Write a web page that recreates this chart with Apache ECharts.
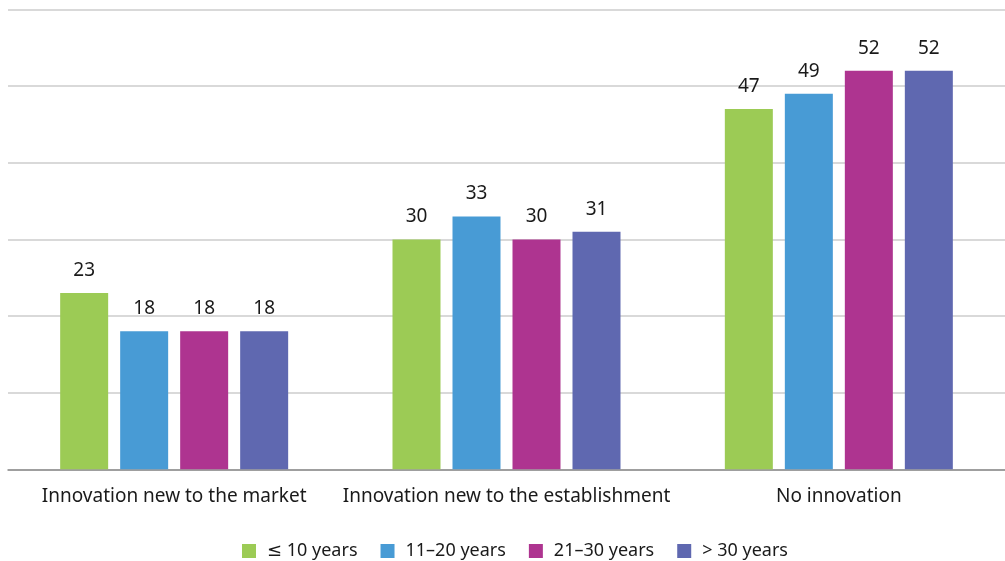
<!DOCTYPE html>
<html>
<head>
<meta charset="utf-8">
<script src="https://cdn.jsdelivr.net/npm/echarts@6/dist/echarts.min.js"></script>
<style>
  html, body { margin: 0; padding: 0; background: #ffffff; }
  #chart { width: 1005px; height: 561px; }
</style>
</head>
<body>
<div id="chart"></div>
<script>
// Innovation type by firm age (share, %)
const categories = [
  'Innovation new to the market',
  'Innovation new to the establishment',
  'No innovation'
];
const seriesNames = ['≤ 10 years', '11–20 years', '21–30 years', '> 30 years'];
const upTo10 = [23, 30, 47];
const from11to20 = [18, 33, 49];
const from21to30 = [18, 30, 52];
const over30 = [18, 31, 52];
const colors = ['#9ccb55', '#489bd5', '#ae3490', '#5f68b0'];

const font = '"Noto Sans", "DejaVu Sans", sans-serif';
const seriesValues = [upTo10, from11to20, from21to30, over30];

const chart = echarts.init(document.getElementById('chart'), null, { renderer: 'canvas' });

chart.setOption({
  animation: false,
  color: colors,
  textStyle: { fontFamily: font },
  grid: { left: 8, width: 1002, top: 9.5, bottom: 91.7, containLabel: false },
  legend: {
    data: seriesNames,
    top: 537,
    left: 237,
    itemWidth: 14,
    itemHeight: 14,
    itemGap: 23,
    icon: 'rect',
    textStyle: { fontFamily: font, fontSize: 18, color: '#1a1a1a', padding: [0, 0, 0, 6] }
  },
  xAxis: {
    type: 'category',
    data: categories,
    axisLine: { lineStyle: { color: '#8c8c8c', width: 1.5 } },
    axisTick: { show: false },
    axisLabel: { fontFamily: font, fontSize: 19, color: '#1a1a1a', margin: 18, interval: 0 }
  },
  yAxis: {
    type: 'value',
    min: 0,
    max: 60,
    interval: 10,
    axisLabel: { show: false },
    axisLine: { show: false },
    axisTick: { show: false },
    splitLine: { lineStyle: { color: '#cccccc', width: 1.5 } }
  },
  series: seriesNames.map((name, i) => ({
    name: name,
    type: 'bar',
    data: seriesValues[i],
    barWidth: 48,
    barGap: '25%',
    itemStyle: { color: colors[i] },
    label: {
      show: true,
      position: 'top',
      distance: 13,
      fontFamily: font,
      fontSize: 19,
      color: '#1a1a1a'
    }
  }))
});
</script>
</body>
</html>
